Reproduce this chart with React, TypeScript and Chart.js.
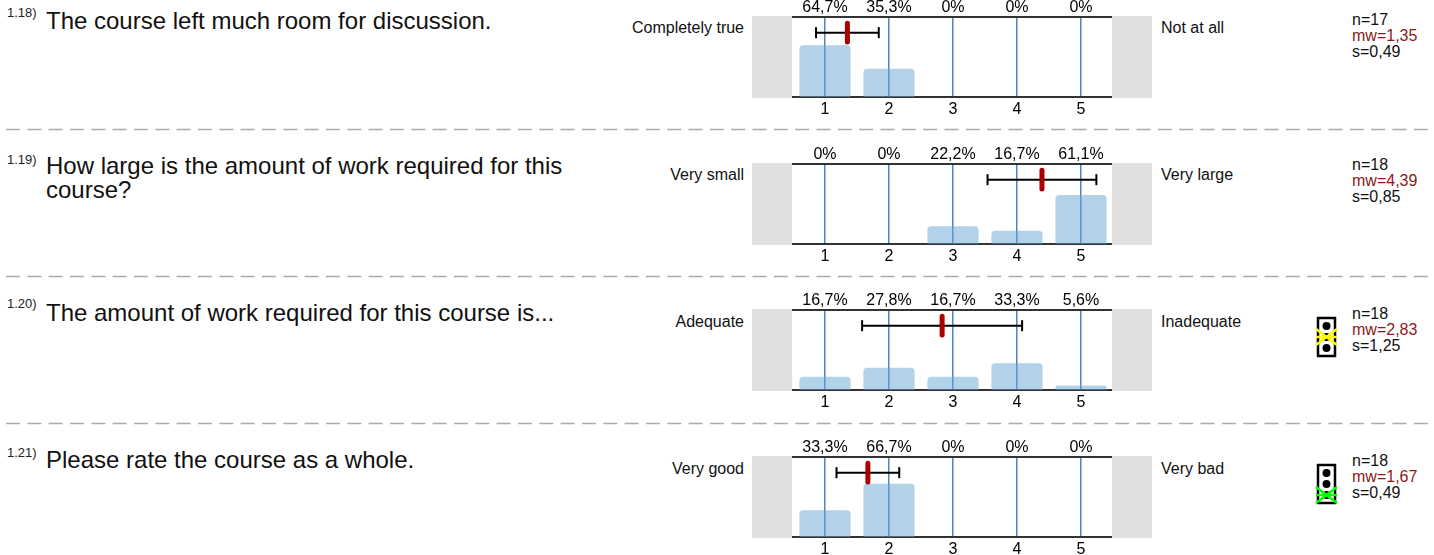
import React, { useEffect, useRef } from "react";
import { Chart, registerables } from "chart.js";

Chart.register(...registerables);

const scaleValues = [1, 2, 3, 4, 5];
const questionNumbers = ["1.18)", "1.19)", "1.20)", "1.21)"];
const questions = [
  ["The course left much room for discussion."],
  ["How large is the amount of work required for this", "course?"],
  ["The amount of work required for this course is..."],
  ["Please rate the course as a whole."],
];
const leftPoles = ["Completely true", "Very small", "Adequate", "Very good"];
const rightPoles = ["Not at all", "Very large", "Inadequate", "Very bad"];
const shares = [
  [64.7, 35.3, 0, 0, 0],
  [0, 0, 22.2, 16.7, 61.1],
  [16.7, 27.8, 16.7, 33.3, 5.6],
  [33.3, 66.7, 0, 0, 0],
];
const shareLabels = [
  ["64,7%", "35,3%", "0%", "0%", "0%"],
  ["0%", "0%", "22,2%", "16,7%", "61,1%"],
  ["16,7%", "27,8%", "16,7%", "33,3%", "5,6%"],
  ["33,3%", "66,7%", "0%", "0%", "0%"],
];
const means = [1.35, 4.39, 2.83, 1.67];
const deviations = [0.49, 0.85, 1.25, 0.49];
const countLabels = ["n=17", "n=18", "n=18", "n=18"];
const meanLabels = ["mw=1,35", "mw=4,39", "mw=2,83", "mw=1,67"];
const deviationLabels = ["s=0,49", "s=0,85", "s=1,25", "s=0,49"];
const lights = [null, null, "#ffff00", "#00ff00"];
const lightPosition = [null, null, 1, 2];

const plotTops = [17, 164, 310, 457];
const separatorYs = [129, 276, 423];
const numberTops = [6, 153, 297, 446];
const questionTops = [9, 154, 301, 448];
const poleTops = [19, 166, 313, 460];
const statTops = [12, 157, 306, 453];
const lightTops = [0, 0, 317, 464];
const AXIS_H = 20;
const PLOT_H = 80;
const FONT = '"Liberation Sans", Arial, sans-serif';

const paintBands = (chart: any) => {
  const { ctx, chartArea: a, width } = chart;
  ctx.save();
  ctx.fillStyle = "#e0e0e0";
  ctx.fillRect(0, a.top - 1, a.left - 1, a.bottom - a.top + 2);
  ctx.fillRect(a.right - 1, a.top - 1, width - a.right + 1, a.bottom - a.top + 2);
  ctx.restore();
};

const bandPlugin = {
  id: "bands",
  beforeDraw: paintBands,
  afterDraw: paintBands,
};

function RowChart({ index }: { index: number }) {
  const ref = useRef<HTMLCanvasElement>(null);
  useEffect(() => {
    const mean = means[index];
    const dev = deviations[index];
    const pin = (s: any) => {
      s.height = AXIS_H;
    };
    const fiveTicks = (s: any) => {
      s.ticks = scaleValues.map((value) => ({ value }));
    };
    const chart = new Chart(ref.current!, {
      type: "bar",
      data: {
        datasets: [
          {
            type: "line",
            data: [
              { x: mean, y: 80.4 + 11.7 },
              { x: mean, y: 80.4 - 11.7 },
            ],
            borderColor: "#aa0000",
            borderWidth: 5,
            borderCapStyle: "round",
            pointRadius: 0,
            order: 1,
          },
          {
            type: "line",
            data: [
              { x: mean - dev, y: 80.4 },
              { x: mean + dev, y: 80.4 },
            ],
            borderColor: "#000000",
            borderWidth: 2,
            pointStyle: "line",
            pointRotation: 90,
            pointRadius: 5.5,
            pointBorderWidth: 2,
            pointBorderColor: "#000000",
            order: 2,
          },
          {
            type: "bar",
            data: scaleValues.map((x, k) => ({ x, y: shares[index][k] })),
            backgroundColor: "rgba(100,165,212,0.5)",
            borderRadius: { topLeft: 4, topRight: 4, bottomLeft: 0, bottomRight: 0 },
            barPercentage: 0.8,
            categoryPercentage: 1,
            order: 3,
          },
        ],
      } as any,
      options: {
        animation: false,
        responsive: false,
        layout: { padding: { left: 41, right: 39, top: 0, bottom: 0 } },
        plugins: { legend: { display: false }, tooltip: { enabled: false } },
        scales: {
          x: {
            type: "linear",
            position: "bottom",
            min: 0.5,
            max: 5.5,
            offset: false,
            afterFit: pin,
            afterBuildTicks: fiveTicks,
            grid: { offset: false, color: "#4a88c4", lineWidth: 1.5, drawTicks: false },
            border: { display: true, color: "#333333", width: 2 },
            ticks: {
              color: "#000",
              font: { family: FONT, size: 16 },
              padding: 3,
              maxRotation: 0,
              autoSkip: false,
              callback: (v: any) => String(v),
            },
          },
          xTop: {
            type: "linear",
            position: "top",
            min: 0.5,
            max: 5.5,
            offset: false,
            afterFit: pin,
            afterBuildTicks: fiveTicks,
            grid: { display: false, drawTicks: false },
            border: { display: true, color: "#333333", width: 2 },
            ticks: {
              color: "#000",
              font: { family: FONT, size: 16 },
              padding: 0,
              maxRotation: 0,
              autoSkip: false,
              callback: (v: any) => shareLabels[index][scaleValues.indexOf(Number(v))],
            },
          },
          y: { display: false, min: 0, max: 100 },
        },
      } as any,
      plugins: [bandPlugin],
    });
    return () => chart.destroy();
  }, [index]);
  const h = PLOT_H + 2 * AXIS_H;
  return (
    <canvas
      ref={ref}
      width={400}
      height={h}
      style={{ position: "absolute", left: 752, top: plotTops[index] - AXIS_H, width: 400, height: h }}
    />
  );
}

function TrafficLight({ index }: { index: number }) {
  const color = lights[index];
  const pos = lightPosition[index];
  if (!color || pos === null) return null;
  const cy = (k: number) => 9 + k * 11;
  const c = cy(pos);
  return (
    <svg
      width={26}
      height={44}
      style={{ position: "absolute", left: 1314, top: lightTops[index] - 2 }}
      viewBox="-3 -2 26 44"
    >
      <rect x={1} y={1} width={17} height={38} fill="#fff" stroke="#000" strokeWidth={2.5} />
      {[0, 1, 2].map((k) => (
        <circle key={k} cx={9.5} cy={cy(k)} r={4} fill="#000" />
      ))}
      <g stroke={color} strokeWidth={2.5} strokeLinecap="butt">
        <line x1={-1} y1={c - 8} x2={20} y2={c + 8} />
        <line x1={-1} y1={c + 8} x2={20} y2={c - 8} />
        <line x1={-1} y1={c} x2={20} y2={c} />
      </g>
    </svg>
  );
}

const abs = (left: number, top: number, extra: any = {}) => ({
  position: "absolute" as const,
  left,
  top,
  whiteSpace: "nowrap" as const,
  fontFamily: FONT,
  ...extra,
});

export default function App() {
  return (
    <div style={{ position: "absolute", left: 0, top: 0, width: 1434, height: 555, overflow: "hidden", background: "#fff" }}>
      <svg width={1434} height={555} style={{ position: "absolute", left: 0, top: 0 }}>
        {separatorYs.map((y) => (
          <line key={y} x1={6} y1={y + 0.5} x2={1434} y2={y + 0.5} stroke="#aaaaaa" strokeWidth={1.5} strokeDasharray="14 7.33" />
        ))}
      </svg>
      {plotTops.map((_, i) => (
        <React.Fragment key={i}>
          <RowChart index={i} />
          <div style={abs(7, numberTops[i], { fontSize: 13, lineHeight: "14px", color: "#222" })}>{questionNumbers[i]}</div>
          {questions[i].map((line, k) => (
            <div key={k} style={abs(46, questionTops[i] + k * 24, { fontSize: 24, lineHeight: "24px", color: "#111" })}>
              {line}
            </div>
          ))}
          <div style={abs(544, poleTops[i], { width: 200, textAlign: "right", fontSize: 16, lineHeight: "18px", color: "#111" })}>{leftPoles[i]}</div>
          <div style={abs(1161, poleTops[i], { fontSize: 16, lineHeight: "18px", color: "#111" })}>{rightPoles[i]}</div>
          <div style={abs(1352, statTops[i], { fontSize: 16, lineHeight: "16px", color: "#111" })}>{countLabels[i]}</div>
          <div style={abs(1352, statTops[i] + 16, { fontSize: 16, lineHeight: "16px", color: "#8b1a1a" })}>{meanLabels[i]}</div>
          <div style={abs(1352, statTops[i] + 32, { fontSize: 16, lineHeight: "16px", color: "#111" })}>{deviationLabels[i]}</div>
          <TrafficLight index={i} />
        </React.Fragment>
      ))}
    </div>
  );
}
